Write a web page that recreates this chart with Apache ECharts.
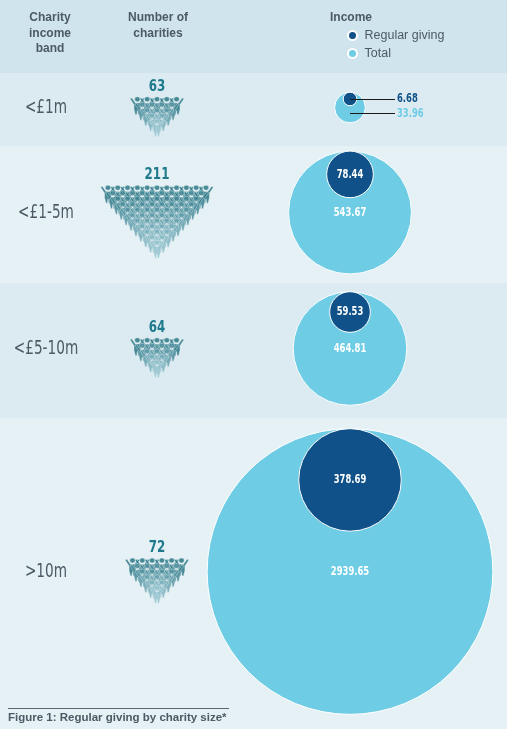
<!DOCTYPE html>
<html>
<head>
<meta charset="utf-8">
<title>Regular giving by charity size</title>
<script src="https://cdn.jsdelivr.net/npm/echarts@6/dist/echarts.min.js"></script>
<style>
  html, body { margin: 0; padding: 0; background: #e5f1f5; }
  #chart { width: 507px; height: 729px; }
</style>
</head>
<body>
<div id="chart"></div>
<script>
// ---- data ----
var bands = ['<£1m', '<£1-5m', '<£5-10m', '>10m'];
var charities = [63, 211, 64, 72];
var regularGiving = [6.68, 78.44, 59.53, 378.69];
var totalIncome = [33.96, 543.67, 464.81, 2939.65];
var iconRows = [5, 11, 5, 6]; // rows in each people triangle

// ---- layout ----
var W = 507, H = 729;
var bandEdges = [0, 73, 146, 283, 418, 729]; // header + 4 bands
var bandColors = ['#cfe4ec', '#dcebf1', '#e5f1f5', '#dcebf1', '#e5f1f5'];
var k = 2.635;            // px radius per sqrt(value)
var circleX = 350;
var sideLabelX = 397;
var picX = 157, pitchX = 9.8, pitchY = 5.5, iconW = 15, iconH = 18;

var COND = "'DejaVu Sans Condensed', 'DejaVu Sans', sans-serif";
var SANS = "'Liberation Sans', Arial, sans-serif";
var GREY = '#4d5a63';
var DARK = '#0f5188';
var LIGHT = '#6ecce5';

var person = 'path://M9,5a4,4 0 1,0 8,0a4,4 0 1,0 -8,0Z' +
  'M2,4L5,3L10,11L16,11L21,3L24,4L18,14L18,21L16,30L14,30L13,23L12,30L10,30L8,21L8,14Z';

function mid(i) { return (bandEdges[i + 1] + bandEdges[i + 2]) / 2; }
function rad(v) { return k * Math.sqrt(v); }
function circleY(i) { return mid(i) - 2; }
function regY(i) { return circleY(i) - rad(totalIncome[i]) + rad(regularGiving[i]); }

var chart = echarts.init(document.getElementById('chart'), null, { renderer: 'canvas' });

// circles
var totalData = [], regData = [], leaders = [];
bands.forEach(function (b, i) {
  totalData.push([circleX, circleY(i), totalIncome[i]]);
  regData.push([circleX, regY(i), regularGiving[i]]);
  if (rad(totalIncome[i]) < 20) {
    leaders.push({ coords: [[circleX, regY(i)], [sideLabelX - 2, regY(i)]] });
    leaders.push({ coords: [[circleX, circleY(i) + 6], [sideLabelX - 2, circleY(i) + 6]] });
  }
});

// people pictograms
var iconData = [];
var countY = [];
bands.forEach(function (b, i) {
  var n = iconRows[i];
  var hp = (n - 1) * pitchY + iconH;
  var labelY = mid(i) - (17.5 + hp) / 2 + 6;
  var top = labelY + 10;
  countY.push(labelY);
  for (var j = 0; j < n; j++) {
    var cnt = n - j;
    var col = echarts.color.lerp(n > 1 ? j / (n - 1) : 0, ['#21707f', '#92c2ce']);
    for (var m = 0; m < cnt; m++) {
      iconData.push({
        value: [picX + (m - (cnt - 1) / 2) * pitchX, top + j * pitchY + iconH / 2],
        itemStyle: { color: col }
      });
    }
  }
});

function condText(api, xy, text, font, fill, sx, align) {
  var p = api.coord(xy);
  return {
    type: 'text', x: p[0], y: p[1], scaleX: sx,
    style: { text: text, font: font, fill: fill, align: align || 'center', verticalAlign: 'middle' }
  };
}

var option = {
  animation: false,
  backgroundColor: '#e5f1f5',
  grid: { left: 0, right: 0, top: 0, bottom: 0 },
  xAxis: { type: 'value', min: 0, max: W, show: false },
  yAxis: { type: 'value', min: 0, max: H, inverse: true, show: false },
  legend: {
    data: ['Regular giving', 'Total'],
    orient: 'vertical',
    left: 342, top: 24,
    icon: 'circle',
    itemWidth: 14, itemHeight: 9, itemGap: 5,
    selectedMode: false,
    textStyle: { color: GREY, fontSize: 12.5, fontFamily: SANS }
  },
  graphic: [
    { type: 'text', x: 50, y: 10, z: 100, style: {
        text: 'Charity\nincome\nband', align: 'center', fill: GREY,
        font: 'bold 12px ' + SANS, lineHeight: 15.5 } },
    { type: 'text', x: 158, y: 10, z: 100, style: {
        text: 'Number of\ncharities', align: 'center', fill: GREY,
        font: 'bold 12px ' + SANS, lineHeight: 15.5 } },
    { type: 'text', x: 330, y: 10, z: 100, style: {
        text: 'Income', fill: GREY, font: 'bold 12px ' + SANS, lineHeight: 15.5 } },
    { type: 'line', z: 100, shape: { x1: 8, y1: 708.5, x2: 229, y2: 708.5 },
      style: { stroke: '#5a6770', lineWidth: 1 } },
    { type: 'text', x: 8, y: 712, z: 100, style: {
        text: 'Figure 1: Regular giving by charity size*', fill: GREY,
        font: 'bold 11.5px ' + SANS } }
  ],
  series: [
    {
      name: 'bands',
      type: 'custom',
      silent: true,
      z: 0,
      data: bandColors.map(function (c, i) { return [i]; }),
      renderItem: function (params, api) {
        var i = api.value(0);
        var p0 = api.coord([0, bandEdges[i]]);
        var p1 = api.coord([W, bandEdges[i + 1]]);
        return {
          type: 'rect',
          shape: { x: p0[0], y: p0[1], width: p1[0] - p0[0], height: p1[1] - p0[1] },
          style: { fill: bandColors[i] }
        };
      }
    },
    {
      name: 'people',
      type: 'scatter',
      silent: true,
      z: 2,
      symbol: person,
      symbolSize: [iconW, iconH],
      itemStyle: { borderColor: 'rgba(240,248,250,0.8)', borderWidth: 0.6 },
      data: iconData
    },
    {
      name: 'Total',
      type: 'scatter',
      z: 3,
      silent: true,
      symbolSize: function (v) { return 2 * rad(v[2]); },
      itemStyle: { color: LIGHT, borderColor: '#ffffff', borderWidth: 1, opacity: 1 },
      emphasis: { disabled: true },
      data: totalData
    },
    {
      name: 'Regular giving',
      type: 'scatter',
      z: 4,
      silent: true,
      symbolSize: function (v) { return 2 * rad(v[2]); },
      itemStyle: { color: DARK, borderColor: '#ffffff', borderWidth: 1, opacity: 1 },
      emphasis: { disabled: true },
      data: regData
    },
    {
      name: 'leaders',
      type: 'lines',
      coordinateSystem: 'cartesian2d',
      z: 5,
      silent: true,
      lineStyle: { color: '#1a1a1a', width: 1, opacity: 1 },
      data: leaders
    },
    {
      name: 'labels',
      type: 'custom',
      silent: true,
      z: 6,
      data: bands.map(function (b, i) { return [i]; }),
      renderItem: function (params, api) {
        var i = api.value(0);
        var kids = [];
        // band name
        kids.push(condText(api, [46, mid(i) - 2], bands[i], '20px ' + COND, GREY, 0.76));
        // number of charities
        kids.push(condText(api, [picX, countY[i]], String(charities[i]), 'bold 15px ' + COND, '#1e7a8c', 0.88));
        // income values
        var tot = totalIncome[i].toFixed(2), reg = regularGiving[i].toFixed(2);
        var numFont = 'bold 12px ' + COND;
        if (rad(totalIncome[i]) < 20) {
          kids.push(condText(api, [sideLabelX, regY(i)], reg, numFont, DARK, 0.78, 'left'));
          kids.push(condText(api, [sideLabelX, circleY(i) + 6], tot, numFont, LIGHT, 0.78, 'left'));
        } else {
          kids.push(condText(api, [circleX, regY(i)], reg, numFont, '#ffffff', 0.78));
          kids.push(condText(api, [circleX, circleY(i)], tot, numFont, '#ffffff', 0.78));
        }
        return { type: 'group', children: kids };
      }
    }
  ]
};

chart.setOption(option);
</script>
</body>
</html>
